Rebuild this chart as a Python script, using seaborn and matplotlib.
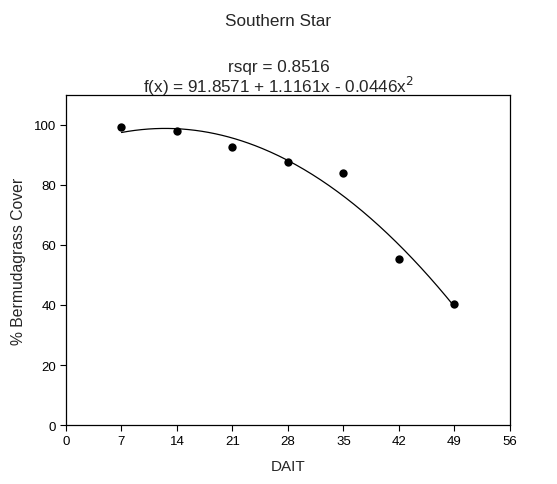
import numpy as np
import pandas as pd
import seaborn as sns
import matplotlib
matplotlib.use("Agg")
import matplotlib.pyplot as plt

sns.set_style("ticks")
plt.rcParams['font.family'] = ['Liberation Sans', 'DejaVu Sans']

# data
dait = [7, 14, 21, 28, 35, 42, 49]
cover = [99.2, 98.1, 92.8, 87.8, 83.9, 55.3, 40.3]

# fitted quadratic stated on the chart
b0, b1, b2 = 91.8571, 1.1161, -0.0446
rsqr = 0.8516

df = pd.DataFrame({"DAIT": dait, "cover": cover})
xs = np.linspace(min(dait), max(dait), 200)
fit = pd.DataFrame({"DAIT": xs, "cover": b0 + b1 * xs + b2 * xs ** 2})

fig = plt.figure(figsize=(5.57, 4.85), dpi=100)
ax = fig.add_axes([0.1185, 0.1216, 0.797, 0.6806])

sns.lineplot(data=fit, x="DAIT", y="cover", color="black", linewidth=0.9, ax=ax)
sns.scatterplot(data=df, x="DAIT", y="cover", color="black", s=36,
                edgecolor="black", linewidth=0, zorder=3, ax=ax)

ax.set_xlim(0, 56)
ax.set_ylim(0, 110)
ax.set_xticks(range(0, 57, 7))
ax.set_yticks(range(0, 101, 20))
ax.tick_params(direction="out", length=4, width=0.8, labelsize=9.5,
               colors="black", pad=3)
for s in ax.spines.values():
    s.set_visible(True)
    s.set_linewidth(0.9)
    s.set_color("black")

ax.set_xlabel("DAIT", fontsize=11, labelpad=9)
ax.set_ylabel("% Bermudagrass Cover", fontsize=11.3, labelpad=6)

fig.text(0.5, 0.955, "Southern Star", ha="center", va="center", fontsize=12.3)
fig.text(0.5, 0.86, f"rsqr = {rsqr:.4f}", ha="center", va="center", fontsize=12.3)
fig.text(0.5, 0.822, f"f(x) = {b0:.4f} + {b1:.4f}x - {abs(b2):.4f}x$^2$",
         ha="center", va="center", fontsize=12.3)

fig.savefig("out.png", dpi=100)
